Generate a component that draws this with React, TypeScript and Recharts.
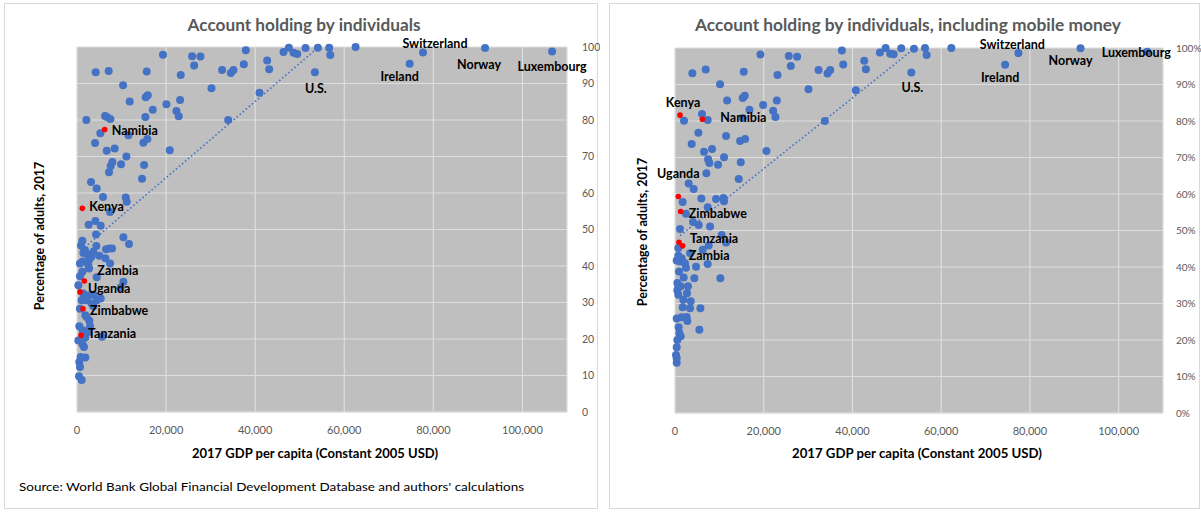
import React from "react";
import { ScatterChart, Scatter, XAxis, YAxis, CartesianGrid, ReferenceLine } from "recharts";

type P = [number, number];
type Named = { name: string; x: number; y: number; red: boolean };

const xTicks = [0, 20000, 40000, 60000, 80000, 100000];
const yTicks = [0, 10, 20, 30, 40, 50, 60, 70, 80, 90, 100];

const leftTitle = "Account holding by individuals";
const rightTitle = "Account holding by individuals, including mobile money";
const xTitle = "2017 GDP per capita (Constant 2005 USD)";
const yTitle = "Percentage of adults, 2017";
const sourceText = "Source: World Bank Global Financial Development Database and authors' calculations";

const leftPoints: P[] = [
  [19300, 97.9], [25840, 97.5], [27710, 97.4], [37900, 99.1], [42690, 96.3], [46360, 98.6], [47560, 99.8], [48610, 98.4],
  [49430, 98.1], [51300, 99.7], [26290, 94.9], [37450, 95.3], [43140, 93.9], [4190, 93.1], [7120, 93.4], [15650, 93.3],
  [23290, 92.3], [32580, 93.7], [34530, 92.9], [35130, 93.7], [10340, 89.5], [30190, 88.7], [40970, 87.5], [11830, 85.1],
  [15430, 86.2], [15880, 86.8], [17000, 82.8], [20070, 84.3], [22320, 82.5], [23140, 85.5], [22840, 81.0], [2100, 80.0],
  [6290, 81.1], [6740, 80.8], [7490, 80.3], [15350, 80.8], [33930, 80.0], [5240, 76.4], [11540, 75.8], [14900, 73.8],
  [15800, 74.8], [4050, 73.7], [6670, 71.6], [8460, 72.2], [20820, 71.7], [11090, 70.0], [7940, 68.5], [7570, 67.4],
  [9890, 67.9], [7190, 65.7], [15060, 67.7], [14600, 63.9], [3150, 63.0], [4420, 61.2], [5840, 58.9], [10940, 58.8],
  [11160, 57.6], [7420, 54.8], [2620, 51.3], [4120, 52.3], [5320, 51.0], [54080, 99.8], [56620, 99.8], [56850, 97.8],
  [62540, 100], [4270, 48.6], [10410, 47.9], [11680, 46.0], [1200, 46.9], [900, 45.6], [4340, 45.5], [6520, 44.6],
  [7860, 44.8], [7270, 44.8], [1420, 43.6], [2170, 43.3], [3300, 42.7], [1270, 41.2], [2770, 41.8], [5020, 42.8],
  [6370, 42.1], [7420, 40.7], [2700, 39.3], [1200, 38.4], [4420, 36.9], [670, 37.2], [10410, 35.7], [9810, 34.1],
  [1420, 32.5], [2770, 32.0], [3750, 32.1], [5320, 31.1], [670, 28.3], [3670, 29.0], [1870, 26.5], [2770, 25.0],
  [520, 23.5], [2920, 23.5], [1870, 20.4], [5620, 20.6], [1270, 18.5], [1570, 17.8], [820, 15.1], [1870, 14.9],
  [520, 13.7], [670, 12.3], [450, 9.8], [1050, 8.8], [1800, 44.4], [3670, 43.9], [670, 40.7], [2550, 40.2],
  [300, 34.7], [1050, 30.6], [2170, 30.6], [3300, 29.7], [4420, 30.6], [2170, 26.0], [1270, 22.4], [2550, 21.9], [300, 19.6],
];

const leftNamed: Named[] = [
  { name: "U.S.", x: 53400, y: 93.1, red: false },
  { name: "Ireland", x: 74680, y: 95.4, red: false },
  { name: "Switzerland", x: 77670, y: 98.5, red: false },
  { name: "Norway", x: 91600, y: 99.7, red: false },
  { name: "Luxembourg", x: 106660, y: 98.8, red: false },
  { name: "Namibia", x: 6220, y: 77.4, red: true },
  { name: "Kenya", x: 1200, y: 55.8, red: true },
  { name: "Zambia", x: 1650, y: 35.9, red: true },
  { name: "Uganda", x: 670, y: 32.9, red: true },
  { name: "Zimbabwe", x: 1350, y: 28.3, red: true },
  { name: "Tanzania", x: 900, y: 21.0, red: true },
];

const leftTrend: P[] = [[1050, 44.4], [54080, 99.8]];

const rightPoints: P[] = [
  [19260, 98.2], [25650, 97.8], [27530, 97.6], [37610, 99.3], [42660, 96.5], [46190, 98.8], [47470, 100], [48520, 98.4],
  [49280, 98.3], [51000, 99.9], [26100, 95.1], [37920, 95.5], [43030, 94.2], [3910, 93.1], [6920, 94.1], [15500, 93.5],
  [23100, 92.6], [32350, 94.0], [34380, 93.0], [34980, 94.0], [10160, 90.1], [30090, 88.7], [40770, 88.4], [11740, 85.6],
  [15270, 86.3], [15720, 86.9], [16780, 83.1], [19860, 84.4], [22120, 82.8], [22950, 85.6], [22640, 81.1], [2030, 80.1],
  [6090, 81.9], [7370, 80.3], [15270, 80.8], [33780, 80.0], [5270, 76.8], [11510, 75.9], [14670, 74.5], [15800, 75.1],
  [3760, 73.7], [6540, 71.6], [8350, 72.3], [20610, 71.8], [11060, 70.1], [7450, 69.5], [7750, 68.5], [9700, 68.0],
  [14820, 68.7], [7070, 65.7], [14370, 64.1], [3080, 62.9], [4210, 61.4], [1730, 57.8], [5940, 58.8], [9250, 58.6],
  [10910, 58.9], [11060, 58.0], [2480, 54.6], [7370, 56.4], [4060, 52.3], [5340, 51.5], [7900, 51.1], [1130, 50.4],
  [53870, 99.8], [56350, 100], [56730, 98.1], [62290, 100], [10530, 48.8], [11510, 46.7], [7600, 45.9], [6240, 44.7],
  [750, 45.2], [3390, 43.8], [750, 43.1], [1500, 42.4], [380, 41.8], [2480, 39.8], [4740, 40.1], [7370, 40.8],
  [900, 38.8], [1960, 37.1], [4360, 36.9], [10230, 36.9], [530, 35.6], [750, 34.5], [1280, 34.7], [2930, 34.7],
  [530, 33.6], [750, 32.4], [2710, 32.8], [1880, 31.0], [3540, 30.6], [1730, 29.0], [3390, 28.7], [5720, 28.7],
  [380, 25.9], [1500, 26.2], [2630, 26.3], [2780, 25.2], [830, 23.5], [5490, 22.8], [980, 21.9], [1280, 21.0],
  [530, 20.0], [380, 18.0], [230, 15.9], [380, 15.0], [380, 13.8], [1130, 41.5], [2260, 41.0],
];

const rightNamed: Named[] = [
  { name: "U.S.", x: 53270, y: 93.3, red: false },
  { name: "Ireland", x: 74410, y: 95.4, red: false },
  { name: "Switzerland", x: 77410, y: 98.6, red: false },
  { name: "Norway", x: 91410, y: 99.9, red: false },
  { name: "Luxembourg", x: 106450, y: 99.0, red: false },
  { name: "Kenya", x: 1130, y: 81.6, red: true },
  { name: "Namibia", x: 6170, y: 80.5, red: true },
  { name: "Uganda", x: 750, y: 59.3, red: true },
  { name: "Zimbabwe", x: 1280, y: 55.2, red: true },
  { name: "Tanzania", x: 900, y: 46.8, red: true },
  { name: "Zambia", x: 1730, y: 45.8, red: true },
];

const rightTrend: P[] = [[1130, 48.6], [53870, 99.8]];

// label placement (dx, dy, anchor) relative to the point
type Off = [number, number, "start" | "middle" | "end"];
const leftOffsets: Record<string, Off> = {
  Namibia: [7, 1, "start"], Kenya: [7, -2, "start"], Zambia: [13, -10, "start"], Uganda: [8, -3, "start"],
  Zimbabwe: [7, 2, "start"], Tanzania: [7, -2, "start"], "U.S.": [1, 16, "middle"], Ireland: [-10, 13, "middle"],
  Switzerland: [12, -9, "middle"], Norway: [-6, 16, "middle"], Luxembourg: [0, 15, "middle"],
};
const rightOffsets: Record<string, Off> = {
  Kenya: [3, -13, "middle"], Namibia: [18, -2, "start"], Uganda: [0, -23, "middle"], Zimbabwe: [8, 2, "start"],
  Tanzania: [11, -4, "start"], Zambia: [6, 10, "start"], "U.S.": [1, 15, "middle"], Ireland: [-5, 13, "middle"],
  Switzerland: [-6, -9, "middle"], Norway: [-10, 12, "middle"], Luxembourg: [-11, 1, "middle"],
};

const FONT = "Lato, 'Open Sans', sans-serif";
const BLUE = "#4472c4";
const toObj = (a: P[]) => a.map(([x, y]) => ({ x, y }));

function Panel(props: {
  left: number; width: number; margin: any; points: P[]; named: Named[]; trend: P[];
  offsets: Record<string, Off>; pct: boolean;
}) {
  const { points, named, trend, offsets, pct } = props;
  const dot = (p: any) => <circle cx={p.cx} cy={p.cy} r={4} fill={BLUE} />;
  const namedShape = (p: any) => {
    const d = p.payload as Named;
    const o = offsets[d.name] || [6, 0, "start"];
    return (
      <g>
        <circle cx={p.cx} cy={p.cy} r={d.red ? 2.8 : 4} fill={d.red ? "#ff0000" : BLUE} />
        <text x={p.cx + o[0]} y={p.cy + o[1]} textAnchor={o[2]} dominantBaseline="central"
          fontFamily={FONT} fontWeight={700} fontSize={12.5} fill="#000">{d.name}</text>
      </g>
    );
  };
  return (
    <div style={{ position: "absolute", left: props.left, top: 0 }}>
      <ScatterChart width={props.width} height={512} margin={props.margin}>
        <CartesianGrid fill="#bfbfbf" fillOpacity={1} stroke="#dedede" strokeWidth={1.2} />
        <XAxis type="number" dataKey="x" domain={[0, 110000]} ticks={xTicks}
          tickFormatter={(v: number) => v.toLocaleString("en-US")} tickLine={false} axisLine={{ stroke: "#d9d9d9" }}
          tick={{ fill: "#595959", fontSize: 11, fontFamily: FONT }} tickMargin={8} height={30} />
        <YAxis type="number" dataKey="y" orientation="right" domain={[0, 100]} ticks={yTicks}
          tickFormatter={(v: number) => (pct ? `${v}%` : `${v}`)} tickLine={false} axisLine={false}
          tick={{ fill: "#595959", fontSize: pct ? 10 : 10.5, fontFamily: FONT, textAnchor: "start" }} tickMargin={pct ? 7 : 9} width={30} />
        <ReferenceLine segment={[{ x: trend[0][0], y: trend[0][1] }, { x: trend[1][0], y: trend[1][1] }]}
          stroke={BLUE} strokeWidth={1.6} strokeDasharray="1.6 2.4" />
        <Scatter data={toObj(points)} shape={dot} isAnimationActive={false} />
        <Scatter data={named.filter((d) => !d.red)} shape={namedShape} isAnimationActive={false} />
        <Scatter data={named.filter((d) => d.red)} shape={namedShape} isAnimationActive={false} />
      </ScatterChart>
    </div>
  );
}

export default function App() {
  const t = { fontFamily: FONT, fontWeight: 700 } as const;
  return (
    <div style={{ position: "absolute", left: 0, top: 0, width: 1201, height: 512, background: "#fff", overflow: "hidden" }}>
      <div style={{ position: "absolute", left: 4, top: 3, width: 594, height: 506, border: "1px solid #d9d9d9", boxSizing: "border-box" }} />
      <div style={{ position: "absolute", left: 609, top: 3, width: 591, height: 506, border: "1px solid #d9d9d9", boxSizing: "border-box" }} />
      <Panel left={0} width={600} margin={{ left: 77, top: 47, right: 3, bottom: 70 }}
        points={leftPoints} named={leftNamed} trend={leftTrend} offsets={leftOffsets} pct={false} />
      <Panel left={600} width={601} margin={{ left: 75, top: 48, right: 8, bottom: 69 }}
        points={rightPoints} named={rightNamed} trend={rightTrend} offsets={rightOffsets} pct={true} />
      <svg width={1201} height={512} style={{ position: "absolute", left: 0, top: 0, pointerEvents: "none" }}>
        <text x={304} y={24} textAnchor="middle" dominantBaseline="central" {...t} fontSize={17} fill="#595959"
          textLength={233} lengthAdjust="spacingAndGlyphs">{leftTitle}</text>
        <text x={908} y={24} textAnchor="middle" dominantBaseline="central" {...t} fontSize={17} fill="#595959"
          textLength={426} lengthAdjust="spacingAndGlyphs">{rightTitle}</text>
        <text x={315} y={453} textAnchor="middle" dominantBaseline="central" {...t} fontSize={12.5} fill="#000"
          textLength={246} lengthAdjust="spacingAndGlyphs">{xTitle}</text>
        <text x={917} y={453} textAnchor="middle" dominantBaseline="central" {...t} fontSize={12.5} fill="#000"
          textLength={250} lengthAdjust="spacingAndGlyphs">{xTitle}</text>
        <text x={19} y={486} dominantBaseline="central" fontFamily={FONT} fontSize={12} fill="#000"
          textLength={505} lengthAdjust="spacingAndGlyphs">{sourceText}</text>
        <text transform="translate(39,236) rotate(-90)" textAnchor="middle" dominantBaseline="central" {...t}
          fontSize={12.5} fill="#000">{yTitle}</text>
        <text transform="translate(642,232) rotate(-90)" textAnchor="middle" dominantBaseline="central" {...t}
          fontSize={12.5} fill="#000">{yTitle}</text>
      </svg>
    </div>
  );
}
